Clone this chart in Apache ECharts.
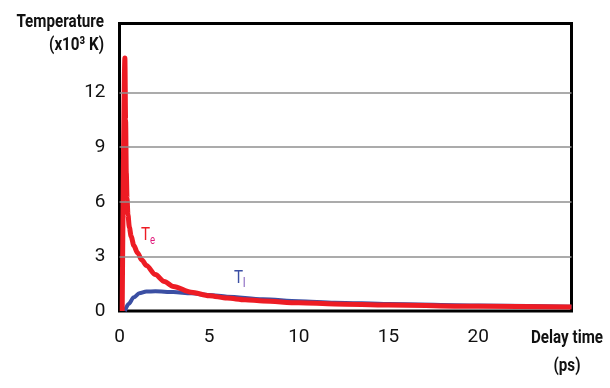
<!DOCTYPE html>
<html>
<head>
<meta charset="utf-8">
<script src="https://cdn.jsdelivr.net/npm/echarts@6/dist/echarts.min.js"></script>
<style>html,body{margin:0;padding:0;background:#fff}#c{width:610px;height:388px}</style>
</head>
<body>
<div id="c"></div>
<script>
// Electron temperature Te (x10^3 K) vs delay time (ps)
const teTime  = [0.15, 0.30, 0.34, 0.38, 0.42, 0.47, 0.55, 0.65, 0.8, 1.0, 1.25, 1.5, 2.0, 2.5, 3.0, 4.0, 5.0, 6.0, 7.0, 8.0, 10, 12, 15, 20, 25.2];
const teValue = [0.0, 13.9, 10.5, 7.6, 6.2, 5.3, 4.6, 4.1, 3.6, 3.2, 2.8, 2.5, 2.0, 1.62, 1.35, 1.03, 0.84, 0.71, 0.62, 0.55, 0.45, 0.39, 0.33, 0.26, 0.22];
// Lattice temperature Tl
const tlTime  = [0.30, 0.5, 0.8, 1.1, 1.5, 2.0, 3.0, 4.0, 5.0, 6.0, 8.0, 10, 12, 15, 20, 25.2];
const tlValue = [0.0, 0.38, 0.75, 0.97, 1.07, 1.08, 1.04, 0.97, 0.88, 0.79, 0.64, 0.54, 0.46, 0.38, 0.30, 0.23];
const yGridValues = [3, 6, 9, 12];
const xTickLabels = [0, 5, 10, 15, 20];
const yTickLabels = [0, 3, 6, 9, 12];

const FONT = 'Roboto, "Liberation Sans", sans-serif';
const chart = echarts.init(document.getElementById('c'));
chart.setOption({
  animation: false,
  backgroundColor: '#fff',
  grid: { left: 119.5, top: 23.5, right: 38.5, bottom: 77, show: true, borderColor: '#000', borderWidth: 3, backgroundColor: 'transparent' },
  xAxis: {
    type: 'value', min: 0, max: 25.2, interval: 5,
    axisLine: { show: false }, axisTick: { show: false }, splitLine: { show: false },
    axisLabel: { margin: 17, fontFamily: FONT, fontSize: 19, color: '#111',
      formatter: v => xTickLabels.includes(v) ? String(v) : '' }
  },
  yAxis: {
    type: 'value', min: 0, max: 15.8, interval: 3,
    axisLine: { show: false }, axisTick: { show: false }, splitLine: { show: false },
    axisLabel: { margin: 14, fontFamily: FONT, fontSize: 19, color: '#111',
      formatter: v => yTickLabels.includes(v) ? String(v) : '' }
  },
  series: [
    {
      type: 'line', name: 'Tl', z: 2,
      data: tlTime.map((t, i) => [t, tlValue[i]]),
      showSymbol: false, smooth: 0.3, smoothMonotone: 'x',
      lineStyle: { color: '#3b4fa3', width: 4 },
      markLine: {
        silent: true, symbol: 'none', label: { show: false },
        lineStyle: { color: '#8f8f8f', width: 1.5, type: 'solid' },
        data: yGridValues.map(v => ({ yAxis: v }))
      }
    },
    {
      type: 'line', name: 'Te', z: 3,
      data: teTime.map((t, i) => [t, teValue[i]]),
      showSymbol: false, smooth: 0.3, smoothMonotone: 'x',
      lineStyle: { color: '#ed1c24', width: 5 }
    }
  ],
  graphic: [
    { type: 'text', x: 104, y: 13, scaleX: 0.8,
      style: { text: 'Temperature', fontFamily: FONT, fontWeight: 'bold', fontSize: 19, fill: '#111', align: 'right', verticalAlign: 'top' } },
    { type: 'text', x: 104, y: 36, scaleX: 0.8,
      style: { text: '(x10³ K)', fontFamily: FONT, fontWeight: 'bold', fontSize: 19, fill: '#111', align: 'right', verticalAlign: 'top' } },
    { type: 'text', x: 567, y: 329, scaleX: 0.8,
      style: { text: 'Delay time', fontFamily: FONT, fontWeight: 'bold', fontSize: 19, fill: '#111', align: 'center', verticalAlign: 'top' } },
    { type: 'text', x: 567, y: 357, scaleX: 0.8,
      style: { text: '(ps)', fontFamily: FONT, fontWeight: 'bold', fontSize: 19, fill: '#111', align: 'center', verticalAlign: 'top' } },
    { type: 'text', x: 141, y: 223, scaleX: 0.8,
      style: { rich: { t: { fontFamily: FONT, fontSize: 19, fill: '#ed1c24' }, s: { fontFamily: FONT, fontSize: 12, fill: '#e0187a', padding: [12, 0, 0, 0] } },
        text: '{t|T}{s|e}' } },
    { type: 'text', x: 234, y: 266, scaleX: 0.8,
      style: { rich: { t: { fontFamily: FONT, fontSize: 19, fill: '#3b4fa3' }, s: { fontFamily: FONT, fontSize: 12, fill: '#6a3fb0', padding: [12, 0, 0, 0] } },
        text: '{t|T}{s|l}' } }
  ]
});
</script>
</body>
</html>
